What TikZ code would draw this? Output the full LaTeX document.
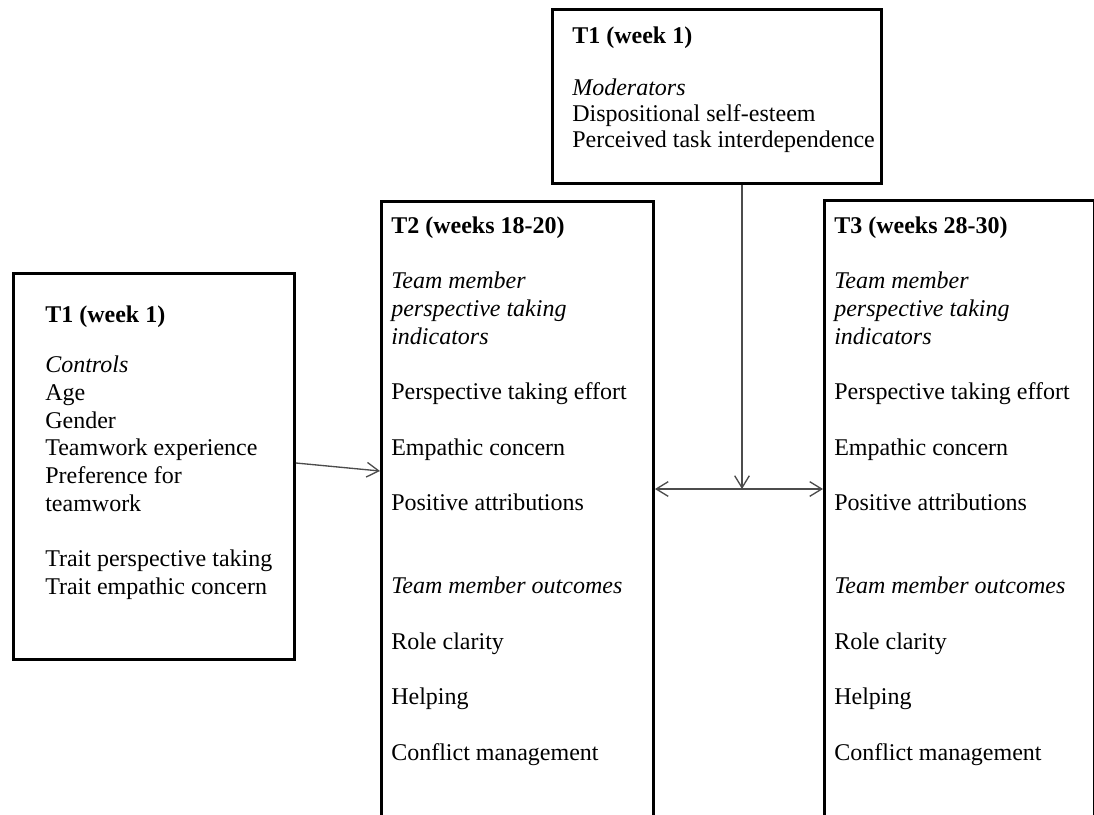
\documentclass[tikz,border=0pt]{standalone}
\usepackage{fontspec}
\setmainfont{Liberation Serif}
\usetikzlibrary{arrows.meta,calc}
\newcommand{\tmitems}{\textit{Team member}\\\textit{perspective taking}\\\textit{indicators}\\[20.8pt]Perspective taking effort\\[20.8pt]Empathic concern\\[20.8pt]Positive attributions\\[41.6pt]\textit{Team member outcomes}\\[20.8pt]Role clarity\\[20.8pt]Helping\\[20.8pt]Conflict management}

\begin{document}
\begin{tikzpicture}[x=0.75pt, y=-0.75pt,
  box/.style={draw, line width=2.2pt, anchor=north west, inner sep=0pt},
  txt/.style={anchor=north west, inner sep=0pt, align=left, font=\fontsize{18pt}{20.8pt}\selectfont},
  arr/.style={line width=1pt, draw=black!70},
  >={Straight Barb[length=9pt, width=11pt]}]
\clip (0,0) rectangle (1094,814);
% boxes
\node[box, minimum width=246.75pt, minimum height=130.5pt] (mod) at (551,8) {};
\node[box, minimum width=210.75pt, minimum height=289.5pt] (ctrl) at (12,272) {};
\node[box, minimum width=204pt, minimum height=480pt] (t2) at (380,200) {};
\node[box, minimum width=202.5pt, minimum height=480pt] (t3) at (823,199) {};
% texts
\node[txt, font=\fontsize{18pt}{19.5pt}\selectfont] (modtxt) at (572,26.5)
  {\textbf{T1 (week 1)}\\[19.5pt]\textit{Moderators}\\Dispositional self-esteem\\Perceived task interdependence};
\node[txt] (ctrltxt) at (45,305.5)
  {\textbf{T1 (week 1)}\\[16.9pt]\textit{Controls}\\Age\\Gender\\Teamwork experience\\Preference for\\teamwork\\[20.8pt]Trait perspective taking\\Trait empathic concern};
\node[txt] (t2txt) at (391,216.5) {\textbf{T2 (weeks 18-20)}\\[20.8pt]\tmitems};
\node[txt] (t3txt) at (834,216.5) {\textbf{T3 (weeks 28-30)}\\[20.8pt]\tmitems};
% connectors
\coordinate (mid) at (742,489);
\draw[arr, ->] (ctrl.east |- 0,463) -- (t2.west |- 0,471);
\draw[arr, ->] (mid |- mod.south) -- (mid);
\draw[arr, <->] (t2.east |- mid) -- (t3.west |- mid);
\end{tikzpicture}
\end{document}
